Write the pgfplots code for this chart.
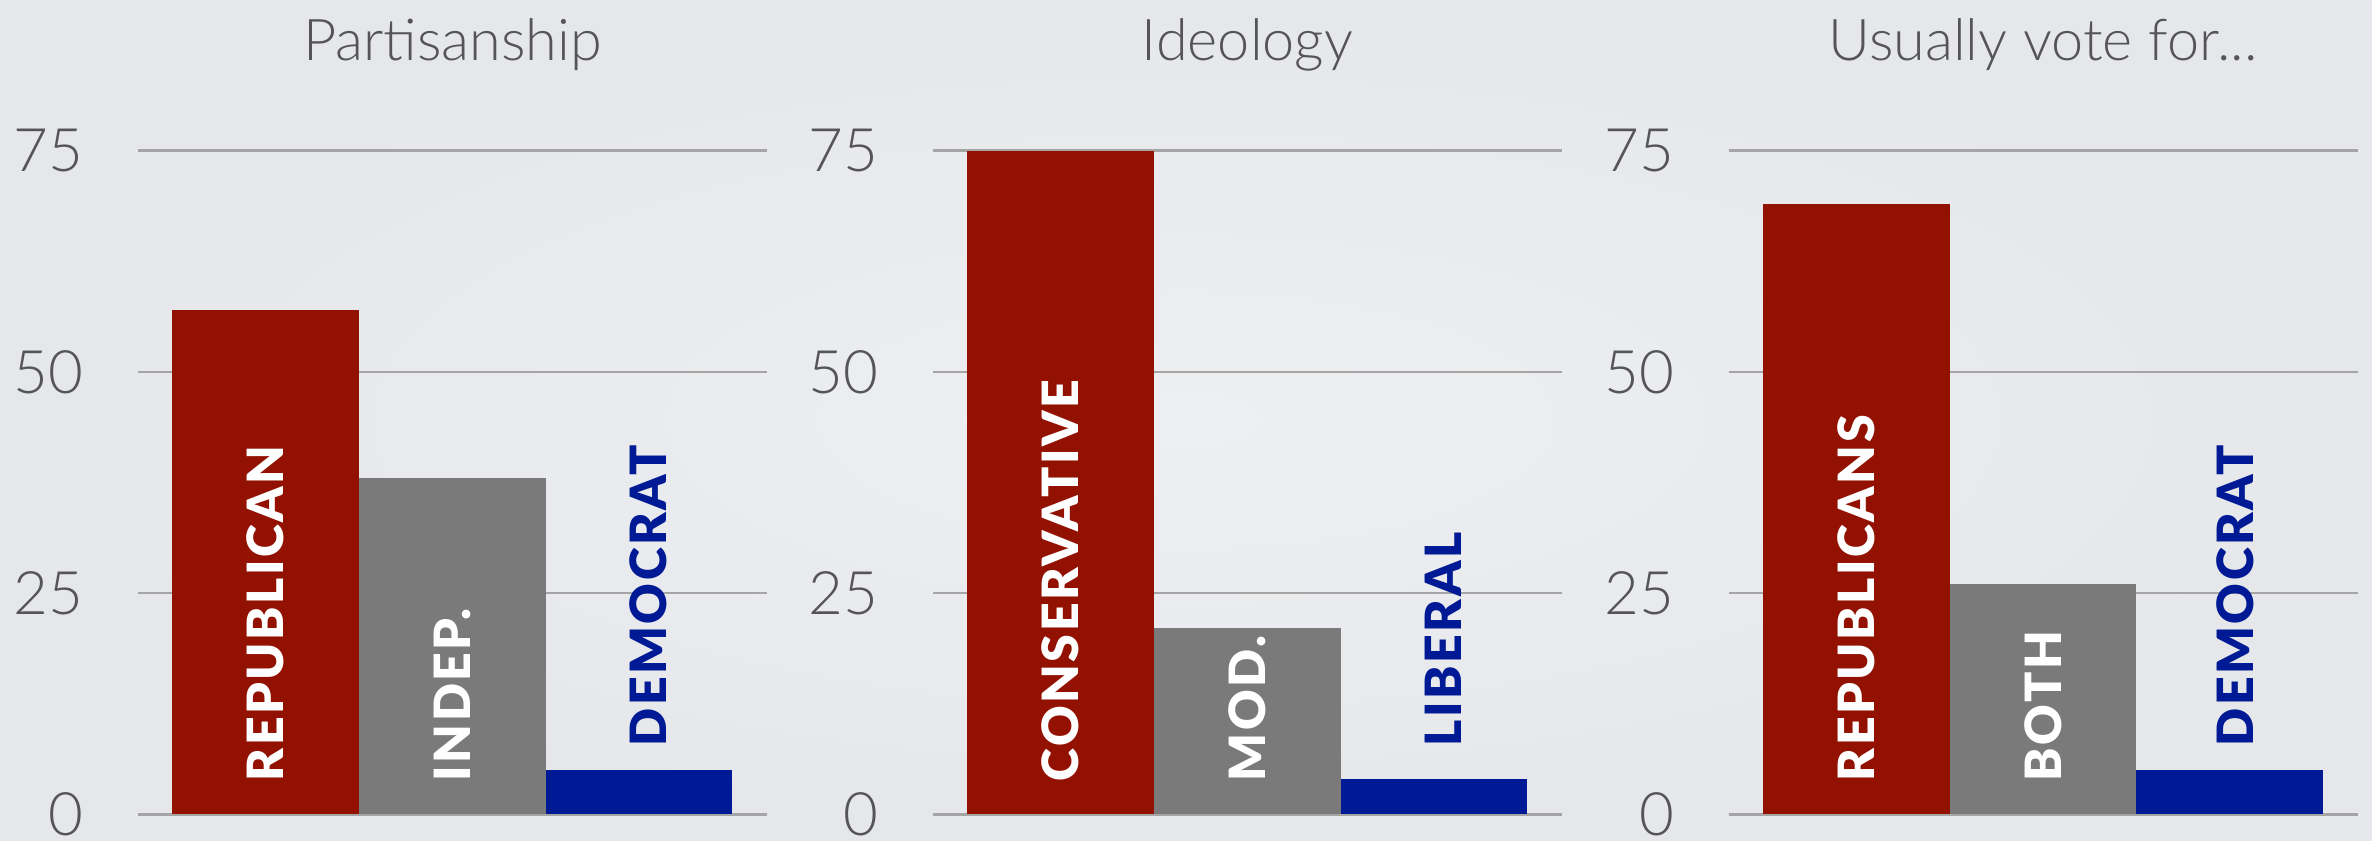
\documentclass[border=0pt]{standalone}
\usepackage{pgfplots}
\pgfplotsset{compat=1.18}
\usepackage{fontspec}
\setmainfont{Lato Light}
\newfontfamily\barfont[LetterSpace=5]{Lato Black}

\definecolor{repred}{RGB}{146,17,0}
\definecolor{indgray}{RGB}{122,122,122}
\definecolor{demblue}{RGB}{0,25,148}
\definecolor{gridgray}{RGB}{165,165,165}
\definecolor{txtgray}{RGB}{85,85,88}
\definecolor{bgin}{RGB}{238,239,241}
\definecolor{bgout}{RGB}{229,231,235}

\pgfplotsset{
  every axis title shift=0pt,
  panel/.style={
    scale only axis, width=157.25pt, height=165.95pt,
    ybar, bar width=1,
    xmin=-0.684, xmax=2.687, ymin=0, ymax=75,
    xtick=\empty, ytick={0,25,50,75},
    axis line style={draw=none},
    major tick length=0pt,
    ymajorgrids, grid style={color=gridgray, line width=0.6pt},
    /pgf/number format/assume math mode=true,
    yticklabel style={font=\fontsize{15}{17}\selectfont, text=txtgray,
      anchor=east, inner sep=0pt, xshift=-13.5pt},
    title style={at={(0.5,1)}, anchor=base, yshift=22.6pt,
      font=\fontsize{14.4}{16}\selectfont, text=txtgray},
    clip=false,
  },
  b/.style={fill=#1, draw=none, bar shift=0pt},
}
\tikzset{
  lbl/.style={rotate=90, anchor=west, inner sep=0pt,
    font=\barfont\fontsize{12.5}{14}\selectfont, text=#1},
}

\begin{document}
\begin{tikzpicture}[x=1pt,y=1pt]
\shade[inner color=bgin, outer color=bgout] (0,0) rectangle (593,210);
\useasboundingbox (0,0) rectangle (593,210);

% Partisanship
\begin{axis}[panel, at={(34.5pt,6.43pt)}, title={Partisanship}]
  \addplot[b=repred] coordinates {(0,57)};
  \addplot[b=indgray] coordinates {(1,38)};
  \addplot[b=demblue] coordinates {(2,5)};
  \node[lbl=white] at (axis cs:0,3.65) {REPUBLICAN};
  \node[lbl=white] at (axis cs:1,3.65) {INDEP.};
  \node[lbl=demblue] at (axis cs:2.05,7.6) {DEMOCRAT};
\end{axis}

% Ideology
\begin{axis}[panel, at={(233.25pt,6.43pt)}, title={Ideology}]
  \addplot[b=repred] coordinates {(0,75)};
  \addplot[b=indgray] coordinates {(1,21)};
  \addplot[b=demblue] coordinates {(2,4)};
  \node[lbl=white] at (axis cs:0,3.65) {CONSERVATIVE};
  \node[lbl=white] at (axis cs:1,3.65) {MOD.};
  \node[lbl=demblue] at (axis cs:2.05,7.6) {LIBERAL};
\end{axis}

% Usually vote for
\begin{axis}[panel, at={(432.15pt,6.43pt)}, title={Usually vote for...}]
  \addplot[b=repred] coordinates {(0,69)};
  \addplot[b=indgray] coordinates {(1,26)};
  \addplot[b=demblue] coordinates {(2,5)};
  \node[lbl=white] at (axis cs:0,3.65) {REPUBLICANS};
  \node[lbl=white] at (axis cs:1,3.65) {BOTH};
  \node[lbl=demblue] at (axis cs:2.03,7.6) {DEMOCRAT};
\end{axis}
\end{tikzpicture}
\end{document}
